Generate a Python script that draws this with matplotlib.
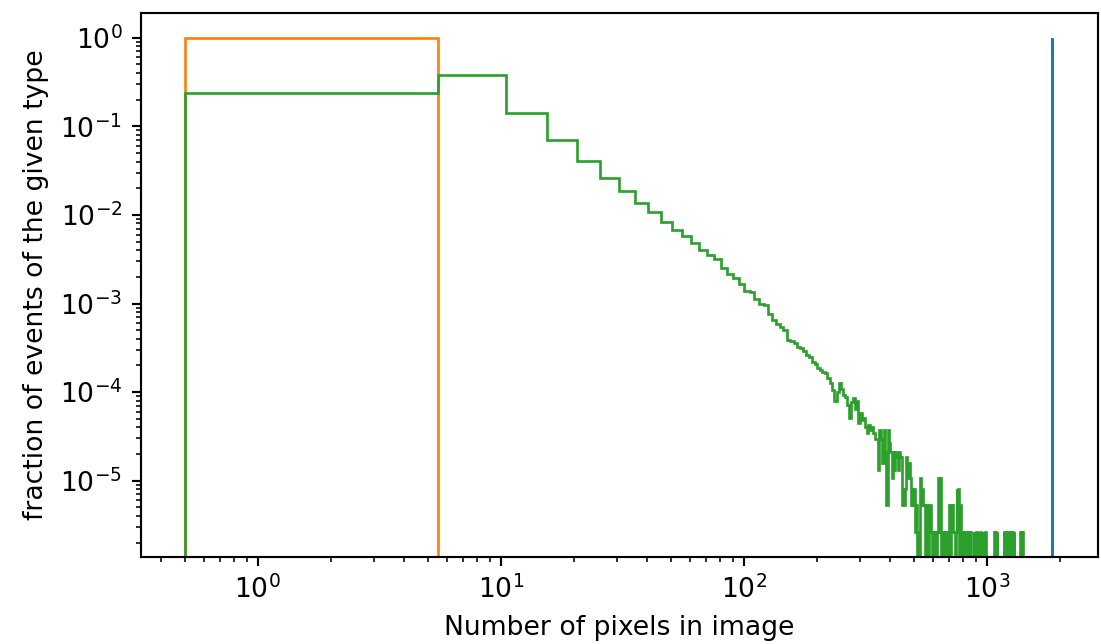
import numpy as np
import matplotlib
matplotlib.use("Agg")
import matplotlib.pyplot as plt

# ---- data ----
bin_width = 5
first_edge = 0.5
n_bins = 371            # edges 0.5 ... 1855.5

orange_bin = 0          # all events of this type in the first bin
blue_bin = 370          # all events of this type in the last bin

# counts per bin for the green type, bins 0..75 (0.5 .. 380.5)
green_counts_head = [
    88300, 142900, 53600, 26400, 15280, 9890, 7000, 5170, 4060, 3155,
    2523, 2175, 1800, 1512, 1338, 1187, 940, 811, 724, 625,
    521, 504, 420, 371, 362, 287, 245, 221, 203, 189,
    146, 142, 136, 122, 117, 108, 99, 94, 83, 78,
    70, 66, 64, 62, 54, 47, 40, 30, 38, 47,
    41, 35, 33, 27, 19, 29, 32, 24, 30, 17,
    22, 18, 19, 15, 13, 16, 14, 15, 13, 11,
    11, 5, 14, 11, 6, 14,
]
# counts per bin for the green type, bins 76..280 (380.5 .. 1405.5)
green_counts_tail = [
    8, 2, 14, 10, 8, 4, 8, 5, 8, 7,
    5, 8, 7, 2, 3, 2, 3, 7, 4, 6,
    4, 2, 3, 2, 3, 1, 2, 0, 1, 0,
    4, 2, 3, 2, 2, 0, 2, 1, 0, 2,
    2, 2, 1, 0, 1, 0, 1, 0, 1, 1,
    4, 1, 4, 0, 1, 0, 1, 0, 1, 1,
    0, 1, 0, 1, 2, 0, 2, 1, 2, 1,
    1, 1, 0, 1, 3, 1, 3, 2, 0, 2,
    1, 0, 1, 0, 1, 1, 0, 1, 0, 1,
    0, 1, 0, 1, 1, 1,
    0, 0, 0, 0,
    1, 0, 1, 0, 1, 1, 0, 1, 0, 1,
    0, 1, 1, 0, 1, 0, 1, 0, 1, 0,
    1, 1, 0, 0,
    0, 0, 0, 0, 0, 0, 0, 0, 0, 0, 0, 0, 0, 0,
    1, 0, 1, 1, 0, 1,
    0, 0, 0, 0, 0, 0, 0, 0, 0, 0, 0, 0, 0, 0,
    1, 0, 1, 0, 1, 1, 0, 1, 0,
    0, 0,
    1, 0, 1, 0, 1, 1, 0, 1, 0, 1, 0, 1, 0, 1,
    0, 0, 0, 0, 0, 0, 0, 0, 0, 0, 0, 0, 0, 0, 0,
    1, 0, 1, 1, 0, 1, 1,
]

x_label = "Number of pixels in image"
y_label = "fraction of events of the given type"

# ---- build histogram inputs ----
edges = first_edge + bin_width * np.arange(n_bins + 1)
centers = 0.5 * (edges[:-1] + edges[1:])

green = np.zeros(n_bins)
g = np.array(green_counts_head + green_counts_tail, dtype=float)
green[:len(g)] = g
green_frac = green / green.sum()

blue_frac = np.zeros(n_bins)
blue_frac[blue_bin] = 1.0
orange_frac = np.zeros(n_bins)
orange_frac[orange_bin] = 1.0

# ---- plot ----
DPI = 192
fig = plt.figure(figsize=(1101 / DPI, 644 / DPI), dpi=DPI)
ax = fig.add_axes([141 / 1101, (644 - 557) / 644,
                   (1097.5 - 141) / 1101, (557 - 13.3) / 644])

ax.hist(centers, bins=edges, weights=blue_frac, histtype="step",
        log=True, color="C0")
ax.hist(centers, bins=edges, weights=orange_frac, histtype="step",
        log=True, color="C1")
ax.hist(centers, bins=edges, weights=green_frac, histtype="step",
        log=True, color="C2")

ax.set_xscale("log")
ax.set_xlim(0.331, 2850)
ax.set_ylim(1.377e-6, 1.886)
ax.set_xlabel(x_label)
ax.set_ylabel(y_label)

fig.savefig("out.png", dpi=DPI)
